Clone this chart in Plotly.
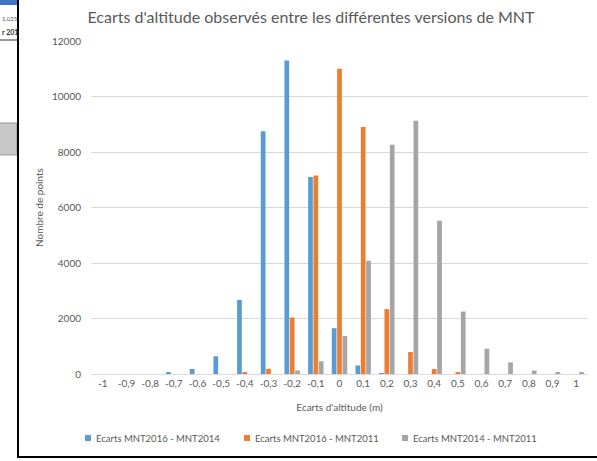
import plotly.graph_objects as go

categories = ["-1", "-0,9", "-0,8", "-0,7", "-0,6", "-0,5", "-0,4", "-0,3", "-0,2", "-0,1",
              "0", "0,1", "0,2", "0,3", "0,4", "0,5", "0,6", "0,7", "0,8", "0,9", "1"]
ecarts_2016_2014 = [0, 0, 0, 40, 180, 640, 2670, 8750, 11300, 7100,
                    1650, 310, 30, 0, 0, 0, 0, 0, 0, 0, 0]
ecarts_2016_2011 = [0, 0, 0, 0, 0, 0, 60, 190, 2040, 7150,
                    11000, 8900, 2340, 790, 180, 40, 0, 0, 0, 0, 0]
ecarts_2014_2011 = [0, 0, 0, 0, 0, 0, 0, 0, 130, 460,
                    1370, 4080, 8260, 9130, 5520, 2250, 910, 420, 120, 50, 50]
series_names = ["Ecarts MNT2016 - MNT2014", "Ecarts MNT2016 - MNT2011", "Ecarts MNT2014 - MNT2011"]
colors = ["#5B9BD5", "#ED7D31", "#A5A5A5"]

FONT = "Lato"
TXT = "#595959"
W, H = 597, 461
L, R, T, B = 91, 9, 41, 87
PW, PH = W - L - R, H - T - B


def px(x):
    return (x - L) / PW


def py(y):
    return (H - B - y) / PH


fig = go.Figure()
for name, vals, col in zip(series_names, [ecarts_2016_2014, ecarts_2016_2011, ecarts_2014_2011], colors):
    fig.add_trace(go.Bar(x=categories, y=vals, name=name, showlegend=False,
                         marker=dict(color=col, line=dict(width=0))))

fig.update_layout(
    width=W, height=H,
    margin=dict(l=L, r=R, t=T, b=B, autoexpand=False),
    paper_bgcolor="white", plot_bgcolor="white",
    barmode="group", bargap=0.32, bargroupgap=0.12,
    font=dict(family=FONT, size=10, color=TXT),
    showlegend=False,
    title=dict(text="Ecarts d'altitude observés entre les différentes versions de MNT",
               x=px(311), xanchor="center", y=1 - 17 / H, yanchor="middle", xref="paper",
               font=dict(family=FONT, size=16, color=TXT)),
    xaxis=dict(type="category", showgrid=False, showline=True, linecolor="#D9D9D9", linewidth=1,
               ticks="", tickfont=dict(size=10, color=TXT), automargin=False,
               title=dict(text="Ecarts d'altitude (m)", font=dict(size=10, color=TXT), standoff=15)),
    yaxis=dict(range=[0, 12000], dtick=2000, showgrid=True, gridcolor="#D9D9D9", gridwidth=1,
               zeroline=False, showline=False, ticks="", tickformat="d", automargin=False,
               tickfont=dict(size=10, color=TXT), ticklabelstandoff=9,
               title=dict(text="Nombre de points", font=dict(size=10, color=TXT), standoff=6)),
)

# Manual legend (small square swatches close to their labels, as in the original)
legend_x = [85, 244, 402]
shapes = []
for name, col, lx in zip(series_names, colors, legend_x):
    shapes.append(dict(type="rect", xref="paper", yref="paper", x0=px(lx), x1=px(lx + 6),
                       y0=py(441), y1=py(435), fillcolor=col, line=dict(width=0)))
    fig.add_annotation(xref="paper", yref="paper", x=px(lx + 9), y=py(438), xanchor="left",
                       yanchor="middle", text=name, showarrow=False,
                       font=dict(size=9.5, color=TXT))

# Screenshot frame and left-side artefacts
shapes += [
    dict(type="rect", xref="paper", yref="paper", x0=px(0), x1=px(17), y0=py(5), y1=py(0),
         fillcolor="#4472C4", line=dict(width=0)),
    dict(type="line", xref="paper", yref="paper", x0=px(0), x1=px(17), y0=py(40), y1=py(40),
         line=dict(color="#333333", width=1)),
    dict(type="rect", xref="paper", yref="paper", x0=px(-2), x1=px(17),
         y0=py(155), y1=py(123), fillcolor="#C8C8C8", line=dict(color="#9A9A9A", width=1)),
    dict(type="line", xref="paper", yref="paper", x0=px(18), x1=px(18), y0=py(0), y1=py(458),
         line=dict(color="black", width=2)),
    dict(type="line", xref="paper", yref="paper", x0=px(18), x1=px(600), y0=py(457), y1=py(457),
         line=dict(color="black", width=2)),
]
fig.update_layout(shapes=shapes)
fig.add_annotation(xref="paper", yref="paper", x=px(0), y=py(19), xanchor="left", yanchor="middle",
                   text="1,025", showarrow=False, font=dict(size=6, color="#555555"))
fig.add_annotation(xref="paper", yref="paper", x=px(0), y=py(32), xanchor="left", yanchor="middle",
                   text="<b>r 201</b>", showarrow=False, font=dict(size=7, color="#333333"))

fig.write_html("out.html", config={"displayModeBar": False},
               post_script="document.body.style.margin='0';document.body.style.overflow='hidden';")
